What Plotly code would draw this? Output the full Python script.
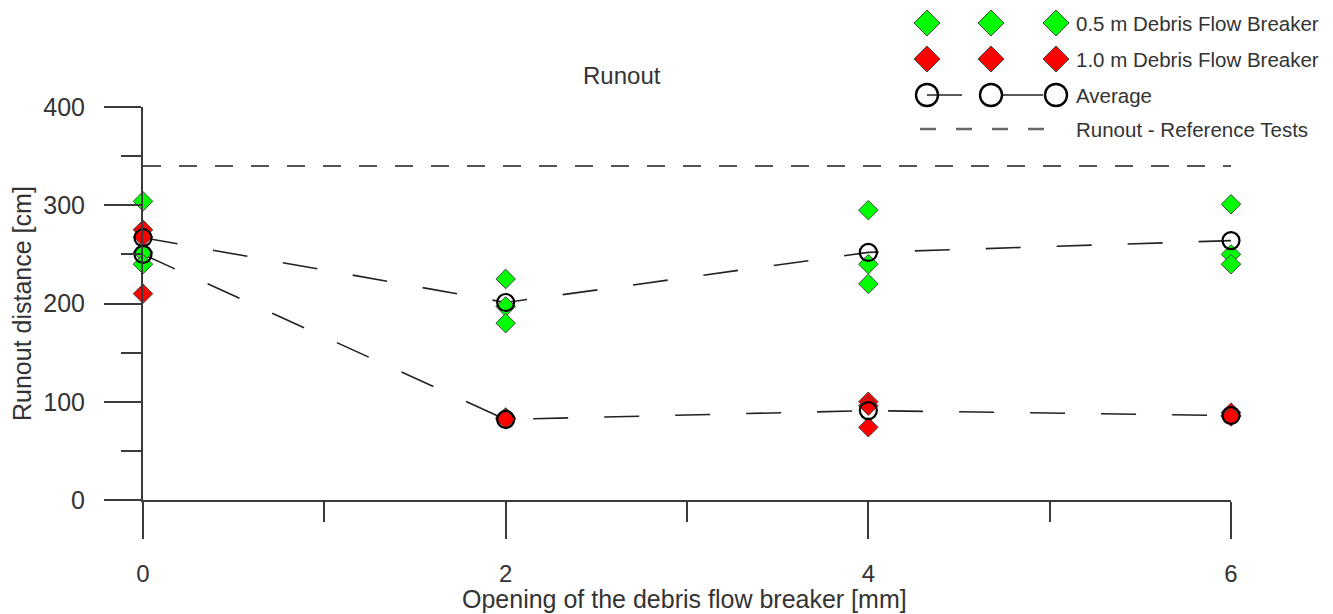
import plotly.graph_objects as go

# Opening of the debris flow breaker [mm]
openings = [0, 2, 4, 6]

# Individual test runs (runout distance in cm), three runs per opening
breaker_05_runs = [
    [304, 252, 240],   # 0 mm
    [225, 197, 180],   # 2 mm
    [295, 240, 220],   # 4 mm
    [301, 250, 240],   # 6 mm
]
breaker_10_runs = [
    [275, 268, 210],   # 0 mm
    [84, 83, 82],      # 2 mm
    [100, 96, 74],     # 4 mm
    [89, 86, 85],      # 6 mm
]

# Averages per opening
breaker_05_avg = [267, 201, 252, 264]
breaker_10_avg = [250, 82, 91, 86]

# Runout of the reference tests (no breaker)
reference_runout = 340

y_ticks = [0, 100, 200, 300, 400]
x_ticks = [0, 2, 4, 6]

legend_labels = [
    "0.5 m Debris Flow Breaker",
    "1.0 m Debris Flow Breaker",
    "Average",
    "Runout - Reference Tests",
]

W, H = 1333, 614
FONT = "Liberation Sans, Arial, sans-serif"
TXT = "#333333"
AX = "#3a3a3a"
GREEN = "#00ff00"
RED = "#ff0000"


def flatten(runs):
    xs, ys = [], []
    for xv, vals in zip(openings, runs):
        for v in vals:
            xs.append(xv)
            ys.append(v)
    return xs, ys


fig = go.Figure()

# reference runout line
fig.add_trace(go.Scatter(
    x=[openings[0], openings[-1]], y=[reference_runout, reference_runout],
    mode="lines", line=dict(color="#555555", width=2, dash="18px,18px"),
    showlegend=False, hoverinfo="skip"))

# average connecting lines
for avg in (breaker_05_avg, breaker_10_avg):
    fig.add_trace(go.Scatter(
        x=openings, y=avg, mode="lines",
        line=dict(color="#222222", width=1.6, dash="35px,36px"),
        showlegend=False, hoverinfo="skip"))

# individual runs
for runs, col in ((breaker_05_runs, GREEN), (breaker_10_runs, RED)):
    xs, ys = flatten(runs)
    fig.add_trace(go.Scatter(
        x=xs, y=ys, mode="markers", cliponaxis=False,
        marker=dict(symbol="diamond", size=15, color=col,
                    line=dict(color="#444444", width=1)),
        showlegend=False))

# average markers (open circles)
for avg in (breaker_05_avg, breaker_10_avg):
    fig.add_trace(go.Scatter(
        x=openings, y=avg, mode="markers", cliponaxis=False,
        marker=dict(symbol="circle-open", size=17, color="#000000",
                    line=dict(color="#000000", width=2.2)),
        showlegend=False))

# ---- legend drawn on its own pixel-scaled overlay axes ----
LX0, LX1, LY_H = 880, 1333, 150
key_x = [927, 991, 1056]
row_y = [23, 59, 95, 129]
text_x = 1074

for col, ry in ((GREEN, row_y[0]), (RED, row_y[1])):
    fig.add_trace(go.Scatter(
        x=key_x, y=[ry] * 3, xaxis="x2", yaxis="y2", mode="markers",
        cliponaxis=False,
        marker=dict(symbol="diamond", size=20, color=col,
                    line=dict(color="#444444", width=1)),
        showlegend=False, hoverinfo="skip"))

for seg in ((key_x[0], 962), (1002, 1043)):
    fig.add_trace(go.Scatter(
        x=list(seg), y=[row_y[2]] * 2, xaxis="x2", yaxis="y2", mode="lines",
        line=dict(color="#222222", width=1.6),
        showlegend=False, hoverinfo="skip"))
fig.add_trace(go.Scatter(
    x=key_x, y=[row_y[2]] * 3, xaxis="x2", yaxis="y2", mode="markers",
    cliponaxis=False,
    marker=dict(symbol="circle-open", size=22, color="#000000",
                line=dict(color="#000000", width=2.4)),
    showlegend=False, hoverinfo="skip"))
fig.add_trace(go.Scatter(
    x=[920, 1047], y=[row_y[3]] * 2, xaxis="x2", yaxis="y2", mode="lines",
    line=dict(color="#666666", width=2.5, dash="16px,20px"),
    showlegend=False, hoverinfo="skip"))

annotations = []
for lab, ry in zip(legend_labels, row_y):
    annotations.append(dict(
        x=text_x, y=ry, xref="x2", yref="y2", text=lab, showarrow=False,
        xanchor="left", yanchor="middle",
        font=dict(family=FONT, size=20.5, color=TXT)))

# plot area in pixels
PL, PR, PT, PB = 143, 1231, 107, 500
xdom = [PL / W, PR / W]
ydom = [1 - PB / H, 1 - PT / H]

annotations += [
    dict(text="Runout", x=622 / W, y=1 - 75 / H, xref="paper", yref="paper",
         showarrow=False, xanchor="center", yanchor="middle",
         font=dict(family=FONT, size=24, color=TXT)),
    dict(text="Opening of the debris flow breaker [mm]", x=684 / W,
         y=1 - 599 / H, xref="paper", yref="paper", showarrow=False,
         xanchor="center", yanchor="middle",
         font=dict(family=FONT, size=25, color=TXT)),
    dict(text="Runout distance [cm]", x=22 / W, y=1 - 304 / H,
         xref="paper", yref="paper", showarrow=False, textangle=-90,
         xanchor="center", yanchor="middle",
         font=dict(family=FONT, size=25, color=TXT)),
]

fig.update_layout(
    width=W, height=H,
    margin=dict(l=0, r=0, t=0, b=0, autoexpand=False),
    paper_bgcolor="white", plot_bgcolor="white",
    showlegend=False,
    font=dict(family=FONT, color=TXT),
    xaxis=dict(
        domain=xdom, range=[0, 6], tickvals=x_ticks, automargin=False,
        showline=True, linecolor=AX, linewidth=2,
        ticks="outside", ticklen=37, tickwidth=2, tickcolor=AX,
        minor=dict(dtick=1, ticks="outside", ticklen=20, tickwidth=2,
                   tickcolor=AX),
        showgrid=False, zeroline=False,
        tickfont=dict(family=FONT, size=24, color=TXT),
        ticklabelstandoff=14,
    ),
    yaxis=dict(
        domain=ydom, range=[0, 400], tickvals=y_ticks, automargin=False,
        showline=True, linecolor=AX, linewidth=2,
        ticks="outside", ticklen=37, tickwidth=2, tickcolor=AX,
        minor=dict(dtick=50, ticks="outside", ticklen=20, tickwidth=2,
                   tickcolor=AX),
        showgrid=False, zeroline=False,
        tickfont=dict(family=FONT, size=25, color=TXT),
        ticklabelstandoff=14,
    ),
    xaxis2=dict(domain=[LX0 / W, LX1 / W], range=[LX0, LX1], visible=False,
                anchor="y2", fixedrange=True, automargin=False),
    yaxis2=dict(domain=[1 - LY_H / H, 1], range=[LY_H, 0], visible=False,
                anchor="x2", fixedrange=True, automargin=False),
    annotations=annotations,
)

fig.write_html("out.html")
